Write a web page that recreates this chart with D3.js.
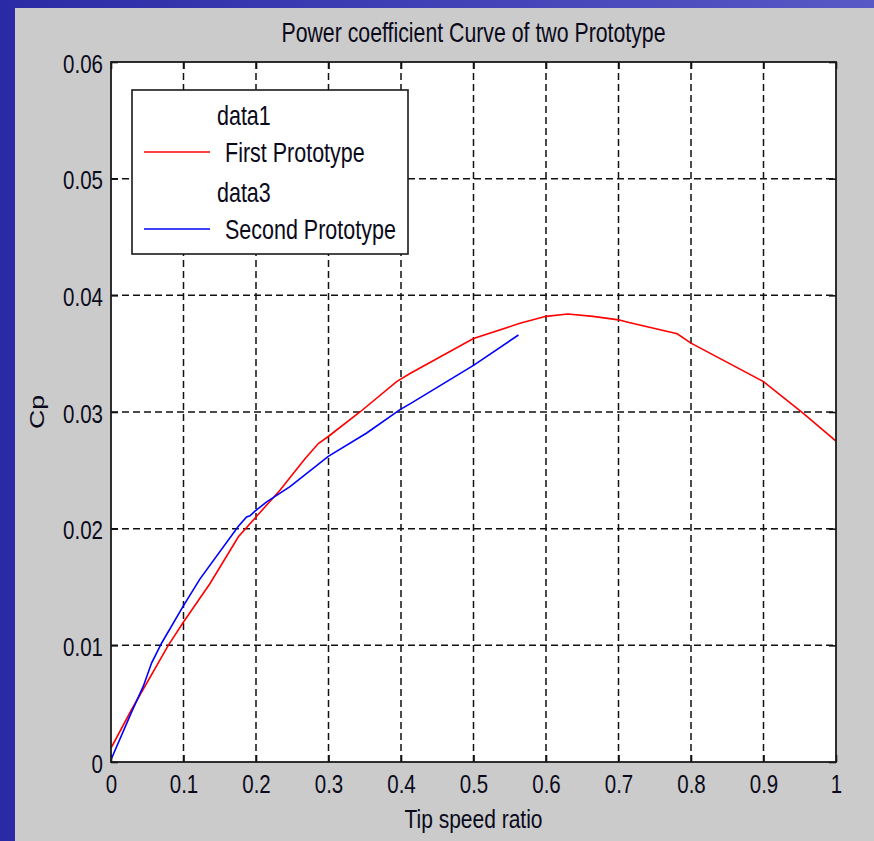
<!DOCTYPE html>
<html>
<head>
<meta charset="utf-8">
<script src="https://cdn.jsdelivr.net/npm/d3@7"></script>
<style>
  html, body { margin: 0; padding: 0; background: #3434b0; }
  svg { display: block; }
  text { font-family: "Liberation Sans", Arial, Helvetica, sans-serif; fill: #0a0a1a; }
</style>
</head>
<body>
<script>
// ---- data ----
const titleText = "Power coefficient Curve of two Prototype";
const xLabelText = "Tip speed ratio";
const yLabelText = "Cp";

const xTicks = [0, 0.1, 0.2, 0.3, 0.4, 0.5, 0.6, 0.7, 0.8, 0.9, 1];
const xTickLabels = ["0", "0.1", "0.2", "0.3", "0.4", "0.5", "0.6", "0.7", "0.8", "0.9", "1"];
const yTicks = [0, 0.01, 0.02, 0.03, 0.04, 0.05, 0.06];
const yTickLabels = ["0", "0.01", "0.02", "0.03", "0.04", "0.05", "0.06"];

const firstX = [0, 0.0285, 0.079, 0.1, 0.1366, 0.1757, 0.2, 0.233, 0.2676, 0.286, 0.2997,
                0.3434, 0.394, 0.4124, 0.5, 0.564, 0.6, 0.63, 0.665, 0.7, 0.713, 0.781, 0.8, 0.9, 0.9545, 1.0];
const firstY = [0.0012, 0.0045, 0.0100, 0.0120, 0.0153, 0.0193, 0.0210, 0.0233, 0.0260, 0.0273, 0.0279,
                0.0300, 0.0326, 0.0333, 0.0363, 0.0376, 0.0382, 0.0384, 0.0382, 0.0379, 0.0377, 0.0367, 0.0359, 0.0326, 0.0299, 0.0275];

const secondX = [0, 0.0285, 0.0446, 0.0561, 0.0699, 0.1, 0.1228, 0.1757, 0.187, 0.1917, 0.1986, 0.2147,
                 0.2469, 0.2997, 0.3527, 0.3986, 0.4124, 0.5, 0.562];
const secondY = [0.0002, 0.0043, 0.0065, 0.0085, 0.0102, 0.0134, 0.0157, 0.0202, 0.0210, 0.0211, 0.0215, 0.0223,
                 0.0236, 0.0262, 0.0282, 0.0302, 0.0307, 0.0340, 0.0366];

const legendLabels = ["data1", "First Prototype", "data3", "Second Prototype"];
const legendColors = [null, "#ff0000", null, "#0000ff"];

// ---- layout ----
const W = 874, H = 841;
const plot = { left: 111, top: 62, right: 836, bottom: 762 };
const SY = 1.27; // vertical stretch of the original slide text

const svg = d3.select("body").append("svg").attr("width", W).attr("height", H);

const defs = svg.append("defs");
const grad = defs.append("linearGradient").attr("id", "bg").attr("x1", 0).attr("y1", 0).attr("x2", 1).attr("y2", 0);
grad.append("stop").attr("offset", "0%").attr("stop-color", "#2a2aa6");
grad.append("stop").attr("offset", "100%").attr("stop-color", "#5858c6");
svg.append("rect").attr("width", W).attr("height", H).attr("fill", "url(#bg)");

// grey figure
svg.append("rect").attr("x", 15).attr("y", 8).attr("width", W - 15).attr("height", H - 8).attr("fill", "#cbcbcb");

// plot area
svg.append("rect").attr("x", plot.left).attr("y", plot.top)
  .attr("width", plot.right - plot.left).attr("height", plot.bottom - plot.top).attr("fill", "#ffffff");

const x = d3.scaleLinear().domain([0, 1]).range([plot.left, plot.right]);
const y = d3.scaleLinear().domain([0, 0.06]).range([plot.bottom, plot.top]);

// grid
const grid = svg.append("g").attr("stroke", "#111").attr("stroke-width", 1.5).attr("stroke-dasharray", "7,4");
grid.selectAll("line.vx").data(xTicks.slice(1, -1)).join("line")
  .attr("x1", d => x(d)).attr("x2", d => x(d)).attr("y1", plot.top).attr("y2", plot.bottom);
grid.selectAll("line.hy").data(yTicks.slice(1, -1)).join("line")
  .attr("x1", plot.left).attr("x2", plot.right).attr("y1", d => y(d)).attr("y2", d => y(d));

// axes (ticks pointing inward)
function styleAxis(g) {
  g.select(".domain").remove();
  g.selectAll(".tick line").attr("stroke", "#111").attr("stroke-width", 1.6);
}
const xAxis = svg.append("g").attr("transform", `translate(0,${plot.bottom})`)
  .call(d3.axisBottom(x).tickValues(xTicks).tickFormat((d, i) => xTickLabels[i]).tickSizeInner(-7).tickSizeOuter(0));
styleAxis(xAxis);
xAxis.selectAll(".tick text").attr("y", 0).attr("dy", 0)
  .attr("transform", `translate(0,31) scale(1,${SY})`)
  .attr("font-size", 20.5).attr("font-family", "Liberation Sans, Arial, sans-serif").attr("fill", "#0a0a1a");

const xAxisTop = svg.append("g").attr("transform", `translate(0,${plot.top})`)
  .call(d3.axisTop(x).tickValues(xTicks).tickFormat("").tickSizeInner(-7).tickSizeOuter(0));
styleAxis(xAxisTop);

const yAxis = svg.append("g").attr("transform", `translate(${plot.left},0)`)
  .call(d3.axisLeft(y).tickValues(yTicks).tickFormat((d, i) => yTickLabels[i]).tickSizeInner(-7).tickSizeOuter(0));
styleAxis(yAxis);
yAxis.selectAll(".tick text").attr("x", 0).attr("dy", 0)
  .attr("transform", `translate(-8,10) scale(1,${SY})`)
  .attr("font-size", 20.5).attr("font-family", "Liberation Sans, Arial, sans-serif").attr("fill", "#0a0a1a");

const yAxisRight = svg.append("g").attr("transform", `translate(${plot.right},0)`)
  .call(d3.axisRight(y).tickValues(yTicks).tickFormat("").tickSizeInner(-7).tickSizeOuter(0));
styleAxis(yAxisRight);

// data lines
const line = d3.line().x(d => x(d[0])).y(d => y(d[1]));
const firstData = firstX.map((v, i) => [v, firstY[i]]);
const secondData = secondX.map((v, i) => [v, secondY[i]]);

const clip = defs.append("clipPath").attr("id", "plotclip");
clip.append("rect").attr("x", plot.left).attr("y", plot.top)
  .attr("width", plot.right - plot.left).attr("height", plot.bottom - plot.top);

const lines = svg.append("g").attr("clip-path", "url(#plotclip)");
lines.append("path").datum(firstData).attr("d", line)
  .attr("fill", "none").attr("stroke", "#ff0000").attr("stroke-width", 1.6);
lines.append("path").datum(secondData).attr("d", line)
  .attr("fill", "none").attr("stroke", "#0000ff").attr("stroke-width", 1.6);

// frame
svg.append("rect").attr("x", plot.left).attr("y", plot.top)
  .attr("width", plot.right - plot.left).attr("height", plot.bottom - plot.top)
  .attr("fill", "none").attr("stroke", "#1a1a1a").attr("stroke-width", 1.8);

// legend
const leg = svg.append("g");
leg.append("rect").attr("x", 132).attr("y", 90).attr("width", 276).attr("height", 164)
  .attr("fill", "#ffffff").attr("stroke", "#1a1a1a").attr("stroke-width", 1.6);
const legRowsY = [117, 154, 194, 231];
const legTextX = [217, 225, 217, 225];
legendLabels.forEach((lab, i) => {
  if (legendColors[i]) {
    leg.append("line").attr("x1", 144).attr("x2", 210).attr("y1", legRowsY[i] - 2).attr("y2", legRowsY[i] - 2)
      .attr("stroke", legendColors[i]).attr("stroke-width", 1.6);
  }
  leg.append("text").attr("font-size", 21.5)
    .attr("transform", `translate(${legTextX[i]},${legRowsY[i] + 8}) scale(1,${SY})`)
    .text(lab);
});

// title & labels
svg.append("text").attr("text-anchor", "middle").attr("font-size", 21.3)
  .attr("transform", `translate(${(plot.left + plot.right) / 2},42) scale(1,${SY})`)
  .text(titleText);
svg.append("text").attr("text-anchor", "middle").attr("font-size", 21)
  .attr("transform", `translate(${(plot.left + plot.right) / 2},828) scale(1,${SY})`)
  .text(xLabelText);
svg.append("text").attr("text-anchor", "middle").attr("font-size", 21)
  .attr("transform", `translate(44,${(plot.top + plot.bottom) / 2}) rotate(-90) scale(${SY},1)`)
  .text(yLabelText);
</script>
</body>
</html>
